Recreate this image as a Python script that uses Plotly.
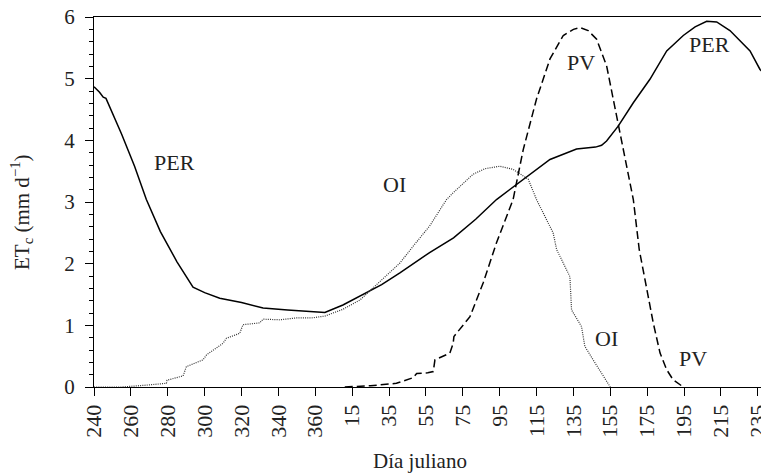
import plotly.graph_objects as go

# x values are a continuous day count: days after 365 are stored as day + 365
tick_vals = [240, 260, 280, 300, 320, 340, 360, 380, 400, 420, 440, 460, 480, 500, 520, 540, 560, 580, 600]
tick_text = ["240", "260", "280", "300", "320", "340", "360", "15", "35", "55", "75", "95",
             "115", "135", "155", "175", "195", "215", "235"]

per_x = [240, 243, 245, 246.5, 255, 262, 268.4, 276, 285, 293.7, 300, 308.2, 320, 331.7, 345, 355, 365.2,
         375, 386, 396, 405.9, 415, 422, 435, 447, 458.3, 472.8, 487.3, 501.7, 512, 515.3, 518, 524.3,
         532.5, 541.5, 550.6, 559.6, 566, 572.3, 577.7, 584.9, 590, 595.8, 601.2, 605]
per_y = [4.87, 4.78, 4.70, 4.68, 4.1, 3.58, 3.04, 2.52, 2.03, 1.62, 1.53, 1.44, 1.37, 1.28, 1.25, 1.23, 1.21,
         1.33, 1.50, 1.66, 1.85, 2.03, 2.18, 2.42, 2.72, 3.04, 3.37, 3.69, 3.86, 3.89, 3.92, 3.99, 4.23,
         4.61, 4.99, 5.45, 5.70, 5.84, 5.93, 5.92, 5.78, 5.63, 5.45, 5.15, 5.04]

pv_x = [376, 390, 404, 413, 415, 421, 424, 424.9, 433, 434.8, 435.2, 443.9, 451.1, 458.3, 467.3,
        472.8, 480, 487.3, 494.5, 500, 503.5, 508, 512.6, 518, 521.6, 525.2, 528.9, 532.5,
        535.7, 539.7, 543.3, 547, 550.6, 554, 557.9, 559.6]
pv_y = [0.0, 0.02, 0.06, 0.15, 0.22, 0.23, 0.25, 0.44, 0.55, 0.71, 0.82, 1.14, 1.69, 2.34, 3.04,
        3.85, 4.67, 5.32, 5.70, 5.80, 5.83, 5.78, 5.64, 5.21, 4.67, 4.13, 3.58, 3.04,
        2.23, 1.63, 1.04, 0.55, 0.28, 0.12, 0.03, 0.0]

oi_x = [240, 255, 268.4, 279.3, 279.6, 288.3, 290.1, 299.1, 301, 310, 311.8, 319, 320.8, 329.9,
        331.7, 340.8, 349.8, 358, 365.2, 375, 384.2, 395.9, 405.9, 413, 422, 431.2, 434.8,
        445.6, 452, 460.1, 467.3, 475.5, 480, 489, 490.9, 498.1, 499, 504.4, 506.2, 510.7,
        515.3, 518.9, 520]
oi_y = [0.0, 0.0, 0.03, 0.06, 0.11, 0.18, 0.33, 0.44, 0.52, 0.71, 0.79, 0.87, 1.01, 1.04,
        1.10, 1.09, 1.12, 1.12, 1.15, 1.26, 1.41, 1.74, 2.01, 2.28, 2.61, 3.04, 3.15,
        3.45, 3.54, 3.58, 3.53, 3.37, 3.04, 2.50, 2.23, 1.79, 1.25, 0.98, 0.66, 0.44,
        0.22, 0.03, 0.0]

label_text = ["PER", "OI", "PV", "PER", "OI", "PV"]
label_x = [283.8, 403.1, 504.1, 574, 518, 564.8]
label_y = [3.64, 3.28, 5.26, 5.56, 0.79, 0.47]

x_title = "Día juliano"
y_title = "ET<sub>c</sub> (mm d<sup>−1</sup>)"

FONT = "Liberation Serif, DejaVu Serif, Noto Serif, serif"

fig = go.Figure()
fig.add_trace(go.Scatter(x=per_x, y=per_y, mode="lines", name="PER",
                         line=dict(color="black", width=1.5, dash="solid")))
fig.add_trace(go.Scatter(x=pv_x, y=pv_y, mode="lines", name="PV",
                         line=dict(color="black", width=1.5, dash="8px,4px")))
fig.add_trace(go.Scatter(x=oi_x, y=oi_y, mode="lines", name="OI",
                         line=dict(color="#333333", width=1.2, dash="1px,1.2px")))

for t, x, y in zip(label_text, label_x, label_y):
    fig.add_annotation(x=x, y=y, text=t, showarrow=False,
                       font=dict(family=FONT, size=22, color="#222"))

# axis titles as annotations (page body adds an 8px offset, compensated in the figure size/margins)
fig.add_annotation(xref="paper", yref="paper", x=0.484, y=-0.2, xanchor="center", yanchor="middle",
                   text=x_title, showarrow=False, font=dict(family=FONT, size=21, color="#222"))
fig.add_annotation(xref="paper", yref="paper", x=-0.107, y=0.473, xanchor="center", yanchor="middle",
                   textangle=-90, text=y_title, showarrow=False,
                   font=dict(family=FONT, size=21, color="#222"))

fig.update_layout(
    width=761, height=466,
    margin=dict(l=86, r=2, t=9, b=87),
    paper_bgcolor="white", plot_bgcolor="white",
    showlegend=False,
    font=dict(family=FONT, size=20, color="#222"),
)
fig.update_xaxes(
    range=[240, 605], tickmode="array", tickvals=tick_vals, ticktext=tick_text,
    tickangle=-90, ticks="outside", ticklen=8, tickcolor="black", tickwidth=1,
    showline=True, linecolor="black", linewidth=1, mirror=True,
    showgrid=False, zeroline=False, automargin=False,
    ticklabeloverflow="allow",
    tickfont=dict(family=FONT, size=22),
)
fig.update_yaxes(
    range=[0, 6], tickmode="linear", tick0=0, dtick=1,
    ticks="outside", ticklen=8, tickcolor="black", tickwidth=1,
    minor=dict(ticks="outside", ticklen=4, dtick=0.2, tickcolor="black", showgrid=False),
    showline=True, linecolor="black", linewidth=1, mirror=True,
    showgrid=False, zeroline=False, automargin=False,
    ticklabelstandoff=6, ticklabeloverflow="allow",
    tickfont=dict(family=FONT, size=21),
)

fig.write_html("out.html")
